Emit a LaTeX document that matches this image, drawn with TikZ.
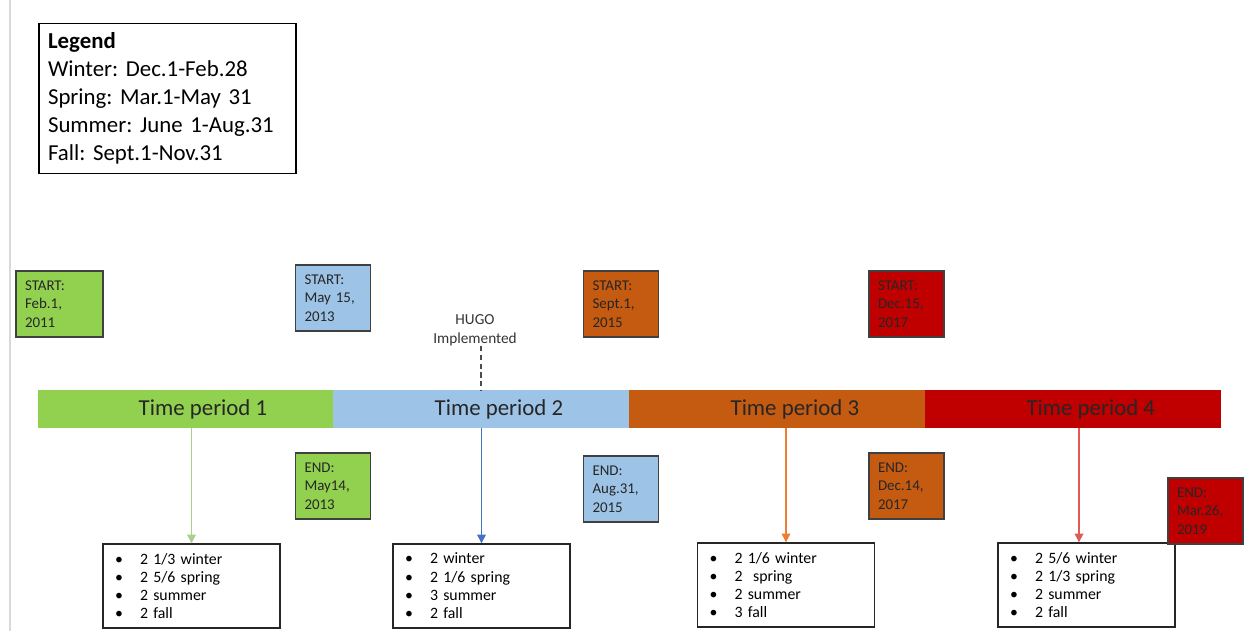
\documentclass[tikz,border=0pt]{standalone}
\usepackage{fontspec}
\setmainfont{Carlito}
\usepackage{xcolor}
\usepackage{tikz}
\usetikzlibrary{arrows.meta,positioning}
\frenchspacing
\definecolor{tpgreen}{HTML}{92D050}
\definecolor{tpblue}{HTML}{9DC3E6}
\definecolor{tporange}{HTML}{C55A11}
\definecolor{tpred}{HTML}{C00000}
\definecolor{arrgreen}{HTML}{A9D18E}
\definecolor{arrblue}{HTML}{4472C4}
\definecolor{arrorange}{HTML}{ED7D31}
\definecolor{arrred}{HTML}{E05A5A}
\definecolor{bk75}{HTML}{404040}
\definecolor{edge}{HTML}{D9D9D9}
\newcommand{\seasonitem}[1]{\makebox[0.5cm][l]{\textbullet}#1}
\tikzset{
  datebox/.style={
    rectangle, draw=bk75, fill=#1, line width=0.9pt,
    minimum height=1.32cm, text width=1.14cm, inner sep=0.18cm,
    align=left, text=black!85,
    font=\fontsize{8.5}{10.5}\selectfont
  },
  datebox/.default=tpgreen,
  periodbar/.style={
    rectangle, fill=#1, draw=none, outer sep=0pt,
    minimum width=5.92cm, minimum height=0.76cm, inner sep=0pt
  },
  barlabel/.style={font=\fontsize{13}{15}\selectfont, text=black!85, inner sep=0pt},
  listbox/.style={
    rectangle, draw=black!85, fill=white, line width=0.8pt,
    minimum height=1.68cm, text width=3.06cm, inner xsep=0.24cm, inner ysep=0.08cm,
    align=left, font=\fontsize{9}{10.4}\selectfont
  },
  legendbox/.style={
    rectangle, draw=black, line width=0.8pt,
    minimum height=2.98cm, text width=4.78cm, inner sep=0.18cm,
    align=left, font=\fontsize{13}{15.9}\selectfont
  },
  countarrow/.style={
    -{Triangle[length=5pt,width=5pt]}, line width=0.7pt, color=#1
  },
  countarrow/.default=arrblue,
}
\begin{document}
\begin{tikzpicture}[x=0.02cm, y=-0.02cm, node distance=0pt]
\useasboundingbox (0,0) rectangle (1244,631);
\draw[edge, line width=1.4pt] (10,0) -- (10,631);
% legend
\node[legendbox] (legend) at (167.5,98.5) {\textbf{Legend}\\Winter: Dec.1-Feb.28\\Spring: Mar.1-May 31\\Summer: June 1-Aug.31\\Fall: Sept.1-Nov.31};
% time bar
\node[periodbar=tpgreen] (seg1) at (185.5,409) {};
\node[periodbar=tpblue, right=of seg1] (seg2) {};
\node[periodbar=tporange, right=of seg2] (seg3) {};
\node[periodbar=tpred, right=of seg3] (seg4) {};
\node[barlabel] (lab1) at ([xshift=0.35cm]seg1.center) {Time period 1};
\node[barlabel] (lab2) at ([xshift=0.35cm]seg2.center) {Time period 2};
\node[barlabel] (lab3) at ([xshift=0.35cm]seg3.center) {Time period 3};
\node[barlabel] (lab4) at ([xshift=0.35cm]seg4.center) {Time period 4};
% start / end dates
\node[datebox=tpgreen, text width=1.38cm] (start1) at (59.5,304) {START:\\Feb.1,\\2011};
\node[datebox=tpblue] (start2) at (333,298) {START:\\May 15,\\2013};
\node[datebox=tporange] (start3) at (621,304) {START:\\Sept.1,\\2015};
\node[datebox=tpred] (start4) at (906.5,304) {START:\\Dec.15,\\2017};
\node[datebox=tpgreen] (end1) at (333,486) {END:\\May14,\\2013};
\node[datebox=tpblue] (end2) at (621,489) {END:\\Aug.31,\\2015};
\node[datebox=tporange] (end3) at (906.5,486) {END:\\Dec.14,\\2017};
% HUGO marker
\node[align=center, font=\fontsize{8.7}{10.8}\selectfont, text=black!80, inner sep=1pt] (hugo) at (475,330) {HUGO\\Implemented};
\coordinate (hugofoot) at (481,346);
\draw[densely dashed, black!70, line width=0.7pt] (hugofoot) -- (hugofoot |- seg2.north);
% season counts
\node[listbox] (list1) at (191.5,586) {\seasonitem{2 1/3 winter}\\\seasonitem{2 5/6 spring}\\\seasonitem{2 summer}\\\seasonitem{2 fall}};
\node[listbox] (list2) at (481.5,586) {\seasonitem{2 winter}\\\seasonitem{2 1/6 spring}\\\seasonitem{3 summer}\\\seasonitem{2 fall}};
\node[listbox] (list3) at (786,585) {\seasonitem{2 1/6 winter}\\\seasonitem{2\ \ spring}\\\seasonitem{2 summer}\\\seasonitem{3 fall}};
\node[listbox] (list4) at (1086.5,585) {\seasonitem{2 5/6 winter}\\\seasonitem{2 1/3 spring}\\\seasonitem{2 summer}\\\seasonitem{2 fall}};
\node[datebox=tpred] (end4) at (1205.5,511) {END:\\Mar.26,\\2019};
\draw[countarrow=arrgreen] (list1.north |- seg1.south) -- (list1.north);
\draw[countarrow=arrblue] (list2.north |- seg2.south) -- (list2.north);
\draw[countarrow=arrorange] (list3.north |- seg3.south) -- (list3.north);
\draw[countarrow=arrred] ([xshift=-0.15cm]list4.north |- seg4.south) -- ([xshift=-0.15cm]list4.north);
\end{tikzpicture}
\end{document}
